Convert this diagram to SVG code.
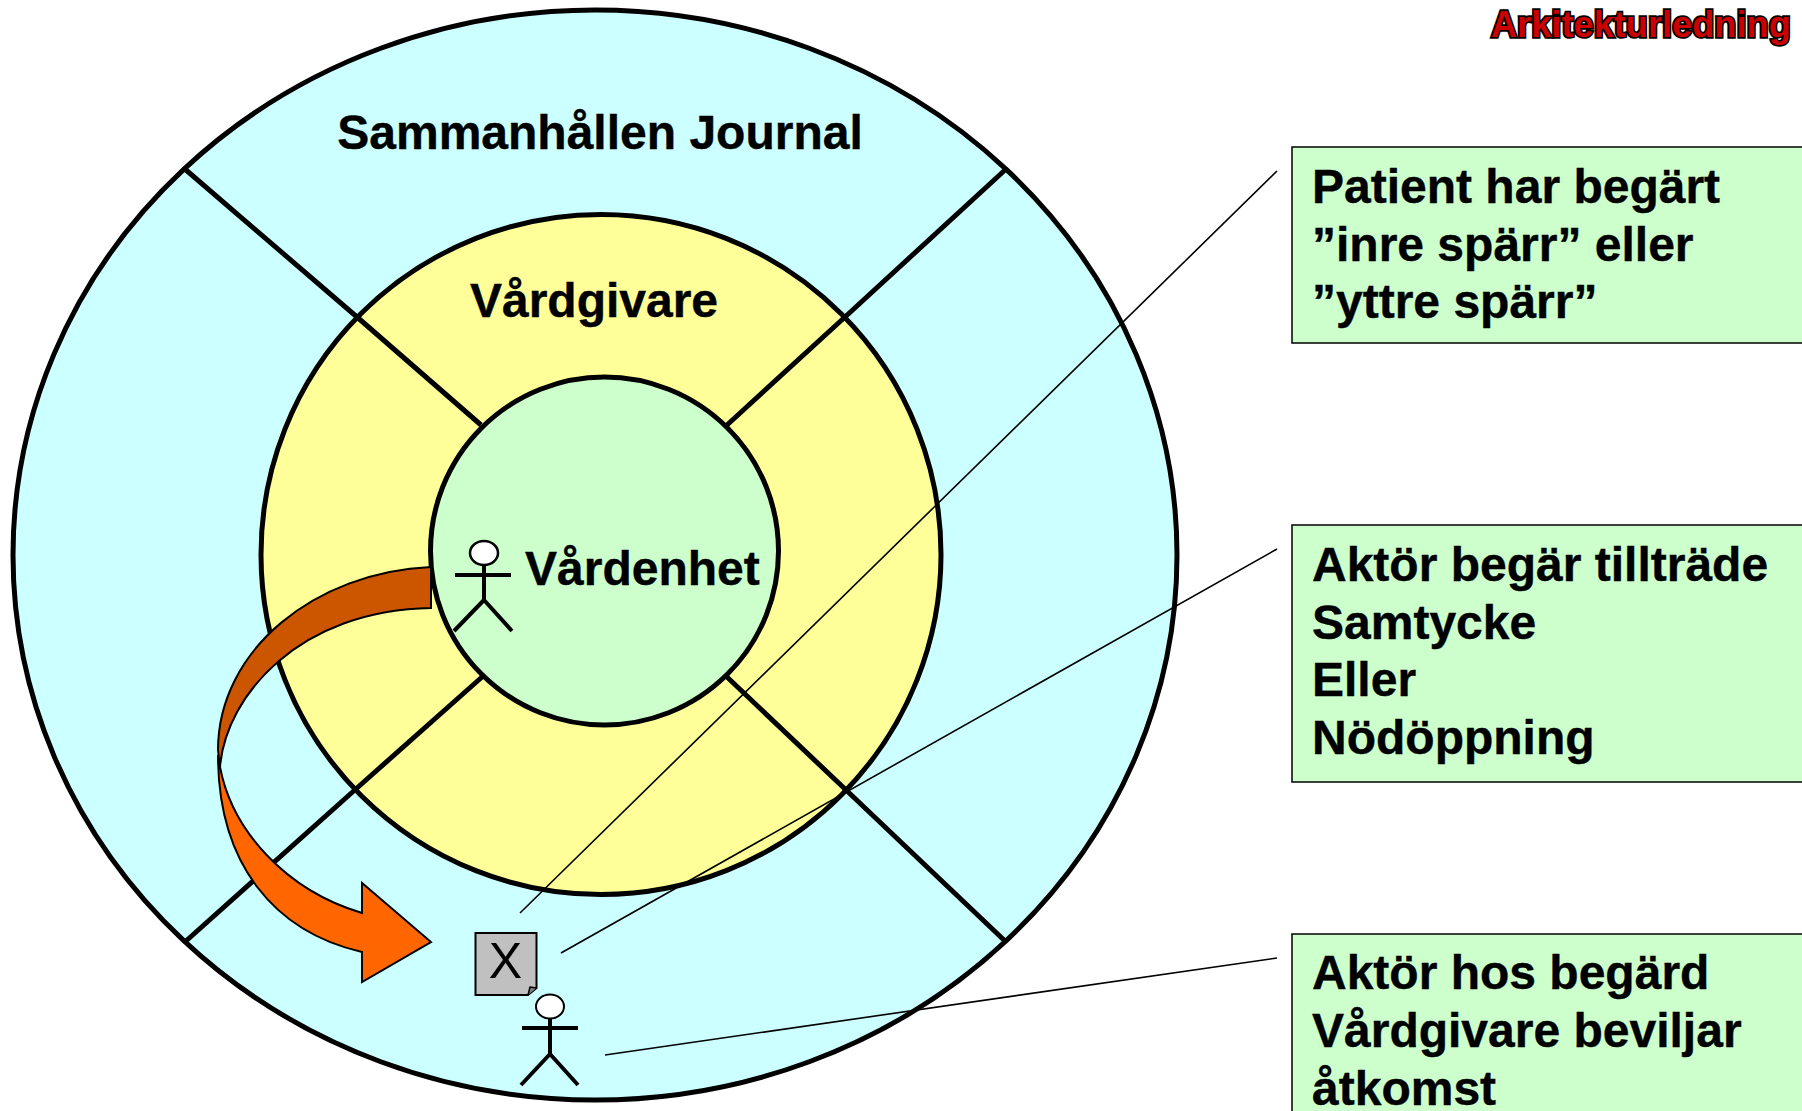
<svg xmlns="http://www.w3.org/2000/svg" width="1802" height="1111" viewBox="0 0 1802 1111">
<style>
.l{fill:none;stroke:#000;stroke-width:5}
.t{font-family:"Liberation Sans",Arial,sans-serif;font-weight:700;font-size:48px;fill:#000;stroke:#000;stroke-width:.4}
.p{fill:none;stroke:#000;stroke-width:4}
.c{fill:none;stroke:#000;stroke-width:1.6}
.box{fill:#ccffcc;stroke:#000;stroke-width:1.5}
</style>
<rect width="1802" height="1111" fill="#fff"/>
<g id="outer"><ellipse cx="595" cy="555" rx="582" ry="545" fill="#ccffff" stroke="#000" stroke-width="5"/>
<text class="t" x="600" y="149" text-anchor="middle">Sammanhållen Journal</text></g>
<g id="spokes-outer"><path class="l" d="M186 170L357 317M1005 170L845 317M186 941L357 788M1005 941L845 789"/></g>
<g id="middle"><ellipse cx="601" cy="554.500" rx="340" ry="340" fill="#ffff99" stroke="#000" stroke-width="5"/>
<text class="t" x="594" y="317" text-anchor="middle">Vårdgivare</text></g>
<g id="spokes-inner"><path class="l" d="M357 317L481 425M845 317L727 425M357 788L482 677M845 789L727 677"/></g>
<g id="inner"><circle cx="604.500" cy="551" r="174" fill="#ccffcc" stroke="#000" stroke-width="5"/>
<text class="t" x="525" y="585">Vårdenhet</text></g>
<g id="actor1"><ellipse cx="484" cy="553" rx="14" ry="12" fill="#fff" stroke="#000" stroke-width="2.500"/><path class="p" d="M484 565V601M455 575H511M484 600L454 631M484 600L512 631"/></g>
<g id="arrow">
<path d="M220 767C232 830 285 890 362 913V883L431 942L362 982V952C275 932 218 865 218 755Z" fill="#ff6600" stroke="#000" stroke-width="2"/>
<path d="M431 567C315 572 218 650 218 750L220 767C226 695 300 610 431 608Z" fill="#cc5500" stroke="#000" stroke-width="2"/>
</g>
<g id="document"><path d="M475.500 933H536.500V988L528 995H475.500Z" fill="#c0c0c0" stroke="#000" stroke-width="2"/><path d="M528 995L530 987L536.500 988" fill="#808080" stroke="#000" stroke-width="1.500"/>
<text x="505.500" y="978" text-anchor="middle" font-family="Liberation Sans,Arial,sans-serif" font-size="50" fill="#000">X</text></g>
<g id="actor2"><ellipse cx="550" cy="1006.500" rx="14" ry="12" fill="#fff" stroke="#000" stroke-width="2"/><path class="p" d="M550 1018V1054M522 1028H578M550 1054L521 1085M550 1054L578 1085"/></g>
<g id="connectors"><path class="c" d="M1277 171L520 913M1277 549L561 953M1277 958L605 1055"/></g>
<g id="note1"><rect class="box" x="1292" y="147" width="515" height="196"/>
<text class="t" x="1312" y="203">Patient har begärt</text><text class="t" x="1312" y="261">”inre spärr” eller</text><text class="t" x="1312" y="318">”yttre spärr”</text></g>
<g id="note2"><rect class="box" x="1292" y="525" width="515" height="257"/>
<text class="t" x="1312" y="581">Aktör begär tillträde</text><text class="t" x="1312" y="639">Samtycke</text><text class="t" x="1312" y="696">Eller</text><text class="t" x="1312" y="754">Nödöppning</text></g>
<g id="note3"><rect class="box" x="1292" y="934" width="515" height="190"/>
<text class="t" x="1312" y="989">Aktör hos begärd</text><text class="t" x="1312" y="1047">Vårdgivare beviljar</text><text class="t" x="1312" y="1105">åtkomst</text></g>
<g id="title"><text x="1491" y="37" font-family="Liberation Sans,Arial,sans-serif" font-weight="700" font-size="36" fill="#cc0000" stroke="#000" stroke-width="3.500" paint-order="stroke" style="letter-spacing:.1px">Arkitekturledning</text></g>
</svg>
